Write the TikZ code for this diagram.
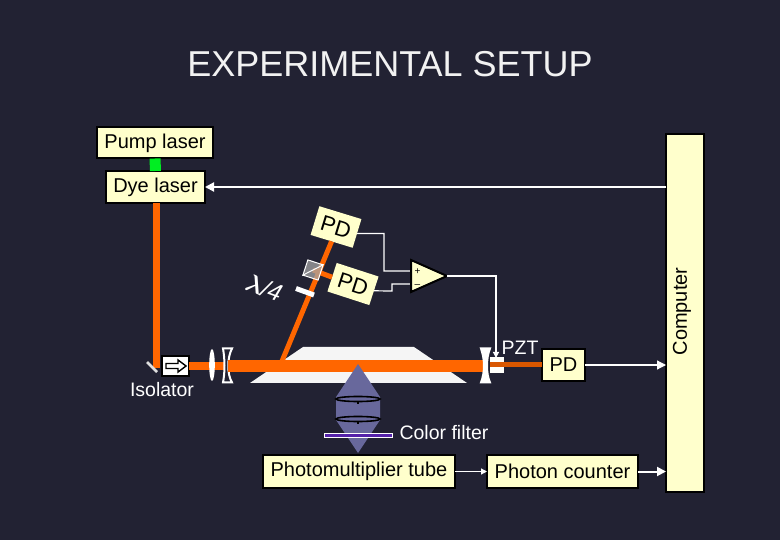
\documentclass[tikz,border=0pt]{standalone}
\usepackage{amsmath, amssymb}
\usepackage{fontspec}
\setmainfont{Liberation Sans}
\usetikzlibrary{arrows.meta}
\definecolor{slidebg}{HTML}{222233}
\definecolor{boxcream}{HTML}{FFFFCC}
\definecolor{beamorange}{HTML}{FF6600}
\definecolor{pumpgreen}{HTML}{00EE22}
\definecolor{conepurple}{HTML}{68689C}
\definecolor{filterpurple}{HTML}{5522AA}
\tikzset{
  box/.style={draw=black,line width=2pt,fill=boxcream,inner sep=0pt,outer sep=0pt,font=\fontsize{20}{24}\selectfont},
  pdbox/.style={fill=boxcream,inner sep=0pt,outer sep=0pt,minimum width=44pt,minimum height=30pt,font=\fontsize{22}{24}\selectfont},
  lbl/.style={text=white,inner sep=0pt,font=\fontsize{19.5}{24}\selectfont},
  beam/.style={beamorange,line width=#1},
  wire/.style={white,line width=1.2pt},
  sig/.style={white,line width=#1,-{Triangle[length=9pt,width=9pt]}},
  mirror/.style={draw=white,line width=2pt,fill=slidebg}
}
\begin{document}
\begin{tikzpicture}[x=1pt,y=-1pt]
  \fill[slidebg] (0,0) rectangle (780,540);
  \useasboundingbox (0,0) rectangle (780,540);
  \node[text=white!95!black,inner sep=0pt,font=\fontsize{36}{40}\selectfont] (title) at (390,64) {EXPERIMENTAL SETUP};

  % lasers and pump beam
  \node[box,minimum width=116pt,minimum height=31pt] (pump) at (155,143) {Pump laser};
  \node[box,minimum width=99pt,minimum height=32pt] (dye) at (155.5,187) {Dye laser};
  \draw[pumpgreen,line width=11pt] (pump.south) -- (dye.north);
  \node[box,minimum width=38pt,minimum height=358pt] (computer) at (685,313) {};
  \node[rotate=90,inner sep=0pt,font=\fontsize{20}{24}\selectfont] (computerlbl) at (682,311.5) {Computer};

  % prism
  \fill[white!96!black] (303,347) -- (414,347) -- (467,383) -- (250,383) -- cycle;

  % beams
  \coordinate (fold) at (156.5,368);
  \coordinate (bend) at (280,366);
  \node[box,line width=2pt,fill=white,minimum width=27pt,minimum height=20pt] (isolator) at (175.5,366) {};
  \node[box,minimum width=43pt,minimum height=32pt] (pdout) at (563.5,365) {PD};
  \node[pdbox,rotate=-17] (pdtop) at (336,227) {PD};
  \node[pdbox,rotate=-18] (pdside) at (353,284) {PD};
  \coordinate (split) at (313,270);
  \coordinate (cavl) at (228,366);
  \coordinate (cavr) at (485,366);
  \draw[beam=7.5pt] (fold |- dye.south) -- (fold);
  \draw[beam=8pt] (isolator.east) -- (cavl);
  \draw[beam=12pt] (cavl) -- (cavr);
  \draw[beam=5pt] (bend) -- (pdtop.south);
  \draw[beam=5pt] (split) -- (pdside.west);

  % isolator with folding mirror
  \draw[white!75!gray,line width=2.5pt] (147,362) -- (157,372);
  \draw[black,line width=1.4pt,fill=white] (166,363.5) -- (178,363.5) -- (178,360) -- (186,366) -- (178,372) -- (178,368.5) -- (166,368.5) -- cycle;
  \node[lbl] (isolatorlbl) at (162,390) {Isolator};

  % cavity optics
  \fill[white] (212,365) ellipse (2.8pt and 16pt);
  \draw[mirror] (223,348.5) -- (232,348.5) .. controls (227,358) and (227,374) .. (232,382.5) -- (223,382.5) .. controls (225,372) and (225,360) .. (223,348.5) -- cycle;
  \draw[beam=12pt] (228,366) -- (240,366);
  \draw[mirror,fill=white] (481,348.5) -- (490,348.5) .. controls (486,358) and (486,374) .. (490,382.5) -- (481,382.5) .. controls (485,372) and (485,360) .. (481,348.5) -- cycle;
  \node[fill=white!90!boxcream,inner sep=0pt,minimum width=14pt,minimum height=16pt] (pzt) at (497,365) {};
  \draw[beam=5pt,beamorange!85!black] (490,365) -- (pdout.west);
  \node[lbl] (pztlbl) at (520,347.5) {PZT};

  % waveplate and beam splitter
  \draw[white,line width=5pt] (296,288.5) -- (314,295);
  \node[lbl,rotate=-20,font=\fontsize{24}{26}\selectfont\itshape] (wavelbl) at (264,288) {$\boldsymbol{\lambda}$/4};
  \node[draw=white,line width=1pt,fill=gray!70,fill opacity=0.75,minimum size=16pt,inner sep=0pt,rotate=-18] (splitter) at (split) {};
  \draw[white,line width=1pt] (splitter.south west) -- (splitter.north east);

  % servo
  \coordinate (ampa) at (411,260);
  \coordinate (ampb) at (411,292);
  \coordinate (ampo) at (447,276);
  \coordinate (ampp) at (411,271);
  \coordinate (ampm) at (411,284);
  \draw[wire] (pdtop.east) -- (384,233.5) |- (ampp);
  \draw[wire] (pdside.east) -- (392,291) |- (ampm);
  \draw[black,line width=2pt,fill=boxcream] (ampa) -- (ampb) -- (ampo) -- cycle;
  \node[inner sep=0pt,font=\fontsize{10}{12}\selectfont] (plus) at (417.5,271.5) {+};
  \node[inner sep=0pt,font=\fontsize{10}{12}\selectfont] (minus) at (417.5,286) {--};
  \draw[white,line width=1.2pt,-{Triangle[length=6pt,width=6pt]}] (ampo) -| (496,358);

  % detection arm
  \fill[conepurple] (358,364) -- (380,397) -- (380,420) -- (358,453) -- (336,420) -- (336,397) -- cycle;
  \foreach \y in {399,419} {
    \draw[black,line width=1.6pt] (358,\y) ellipse (22pt and 2.5pt);
    \draw[black,line width=1.4pt] (358,\y+3) -- (358,\y+4.5);
  }
  \node[draw=white,line width=1pt,fill=filterpurple,minimum width=68pt,minimum height=4pt,inner sep=0pt] (filter) at (358.5,435) {};
  \node[lbl] (filterlbl) at (444,433) {Color filter};
  \node[box,minimum width=192pt,minimum height=33pt] (pmt) at (359,471.5) {Photomultiplier tube};
  \node[box,minimum width=151pt,minimum height=33pt] (counter) at (562.5,471.5) {Photon counter};

  % signals
  \draw[sig=2pt] (computer.west |- dye) -- (dye.east);
  \draw[sig=1.2pt] (pdout.east) -- (pdout -| computer.west);
  \draw[sig=1.2pt,-{Triangle[length=6pt,width=6pt]}] (pmt.east) -- (counter.west);
  \draw[sig=2pt] (counter.east) -- (counter -| computer.west);
\end{tikzpicture}
\end{document}
